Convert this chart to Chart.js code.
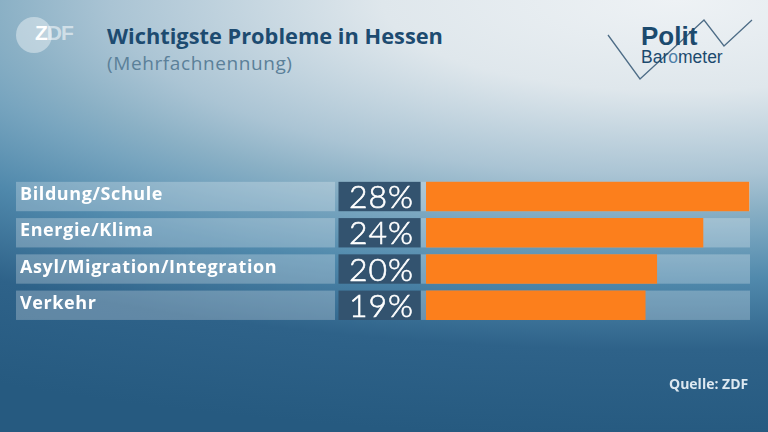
<!DOCTYPE html>
<html lang="de">
<head>
<meta charset="utf-8">
<title>Wichtigste Probleme in Hessen</title>
<script src="https://cdn.jsdelivr.net/npm/chart.js@4.4.1/dist/chart.umd.min.js"></script>
<style>
  html, body { margin: 0; padding: 0; }
  body { width: 768px; height: 432px; overflow: hidden; }
  #stage {
    position: relative;
    width: 768px;
    height: 432px;
    background: radial-gradient(ellipse 1130px 350px at 88% 0%,
      #eef2f5 0%, #dfe7ec 26%, #aac4d4 50%, #8ab0c5 60%, #78a5bf 66%,
      #5089ac 80%, #2e6289 100%, #265a80 125%);
    font-family: "Open Sans", sans-serif;
  }
  #chart { position: absolute; left: 0; top: 0; }
  .title {
    position: absolute; left: 107px; top: 21px;
    font-size: 21.8px; font-weight: 700; color: #1d4b70;
    white-space: nowrap;
  }
  .subtitle {
    position: absolute; left: 107px; top: 50px;
    font-size: 19px; font-weight: 400; color: #5b8099;
    letter-spacing: 0.6px; white-space: nowrap;
  }
  .zdf-circle {
    position: absolute; left: 16px; top: 17px; width: 36px; height: 36px;
    border-radius: 50%; background: rgba(255, 255, 255, 0.4);
  }
  .zdf-text {
    position: absolute; left: 35px; top: 21px;
    font-family: "Liberation Sans", sans-serif;
    font-size: 21px; font-weight: 700; color: #ffffff;
    letter-spacing: -1px;
  }
  .zdf-text span { color: rgba(255, 255, 255, 0.55); }
  .polit {
    position: absolute; left: 641px; top: 21px;
    font-family: "Liberation Sans", sans-serif;
    font-size: 26px; font-weight: 700; color: #1c4a6e;
  }
  .barometer {
    position: absolute; left: 641px; top: 47px;
    font-family: "Liberation Sans", sans-serif;
    font-size: 17.5px; color: #1c4a6e;
  }
  .barometer span { color: #4f80a8; }
  #zigzag { position: absolute; left: 0; top: 0; }
  .quelle {
    position: absolute; left: 669px; top: 374px;
    font-size: 14px; font-weight: 700; color: #dde8f0;
  }
</style>
</head>
<body>
<div id="stage">
  <div class="zdf-circle"></div>
  <div class="zdf-text">Z<span>DF</span></div>
  <div class="title">Wichtigste Probleme in Hessen</div>
  <div class="subtitle">(Mehrfachnennung)</div>
  <svg id="zigzag" width="768" height="100">
    <polyline points="608,35 640,79 704,20 724,46 752,20" fill="none" stroke="#4e6d87" stroke-width="1.3"/>
  </svg>
  <div class="polit">Polit</div>
  <div class="barometer">Bar<span>o</span>meter</div>
  <canvas id="chart" width="768" height="432"></canvas>
  <div class="quelle">Quelle: ZDF</div>
</div>

<script>
  // Daten
  const categories = ["Bildung/Schule", "Energie/Klima", "Asyl/Migration/Integration", "Verkehr"];
  const values = [28, 24, 20, 19];
  const scaleMax = 28;

  // Kästen links (Beschriftung, Prozentwert) und Hintergrundspur
  const rowBoxes = {
    id: "rowBoxes",
    beforeDatasetsDraw(chart) {
      const ctx = chart.ctx;
      const x = chart.scales.x;
      const meta = chart.getDatasetMeta(0);
      ctx.save();
      meta.data.forEach((bar) => {
        const top = bar.y - bar.height / 2;
        const h = bar.height;
        // Beschriftungskasten
        ctx.fillStyle = "rgba(255, 255, 255, 0.25)";
        ctx.fillRect(16, top, 319, h);
        // Prozentkasten
        ctx.fillStyle = "#33536f";
        ctx.fillRect(338.5, top, 82, h);
        // Spur
        ctx.fillStyle = "rgba(255, 255, 255, 0.25)";
        const x0 = x.getPixelForValue(0) - 5;
        ctx.fillRect(x0, top, x.getPixelForValue(scaleMax) + 0.5 - x0, h);
      });
      ctx.restore();
    },
    afterDatasetsDraw(chart) {
      const ctx = chart.ctx;
      const meta = chart.getDatasetMeta(0);
      ctx.save();
      meta.data.forEach((bar, i) => {
        ctx.fillStyle = "#ffffff";
        ctx.strokeStyle = "#ffffff";
        ctx.textBaseline = "alphabetic";
        // Kategorie
        ctx.font = "700 18px 'Open Sans'";
        ctx.letterSpacing = "0.6px";
        ctx.textAlign = "left";
        ctx.fillText(categories[i], 20, bar.y + 3.5);
        // Prozentwert
        ctx.font = "300 32px Lato";
        ctx.letterSpacing = "1px";
        ctx.textAlign = "right";
        ctx.lineWidth = 0.6;
        ctx.fillText(values[i] + "%", 414, bar.y + 11.5);
        ctx.strokeText(values[i] + "%", 414, bar.y + 11.5);
      });
      ctx.restore();
    }
  };

  document.fonts.load("700 18px 'Open Sans'").then(() => document.fonts.load("300 32px Lato")).finally(() => {
    new Chart(document.getElementById("chart"), {
      type: "bar",
      data: {
        labels: categories,
        datasets: [{
          data: values,
          backgroundColor: "#fc7f1c",
          borderWidth: 0,
          categoryPercentage: 1,
          barPercentage: 0.81
        }]
      },
      options: {
        indexAxis: "y",
        responsive: false,
        animation: false,
        layout: { padding: { left: 426, right: 18.5, top: 178.4, bottom: 108.6 } },
        scales: {
          x: { display: false, min: 0, max: scaleMax },
          y: { display: false }
        },
        plugins: {
          legend: { display: false },
          tooltip: { enabled: false }
        }
      },
      plugins: [rowBoxes]
    });
  });
</script>
</body>
</html>
